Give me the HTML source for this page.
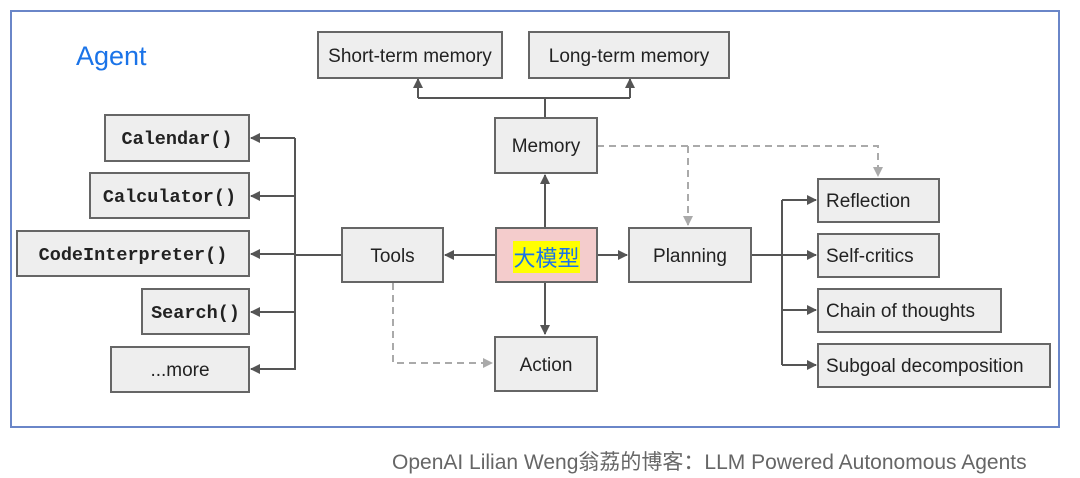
<!DOCTYPE html>
<html><head><meta charset="utf-8"><style>
body{margin:0;width:1080px;height:478px;background:#fff;position:relative;overflow:hidden;font-family:"Liberation Sans","Noto Sans CJK SC",sans-serif}
.f{position:absolute;border:2px solid #6a86c8;left:10px;top:10px;width:1046px;height:414px}
.b{position:absolute;box-sizing:border-box;background:#eeeeee;border:2px solid #666;display:flex;align-items:center;justify-content:center;font-size:19px;color:#222;white-space:nowrap;padding-top:3px}
.m{font-family:"Liberation Mono",monospace;font-weight:bold;font-size:18.5px}
.l{justify-content:flex-start;padding-left:7px}
svg{position:absolute;left:0;top:0}
</style></head><body>
<div class="f"></div>
<div style="position:absolute;left:76px;top:41px;font-size:27px;color:#1a73e8">Agent</div>
<svg width="1080" height="478">
<defs><marker id="a" markerWidth="10" markerHeight="10" refX="9" refY="5" orient="auto" markerUnits="userSpaceOnUse"><path d="M0,0L10,5L0,10z" fill="#555"/></marker>
<marker id="g" markerWidth="10" markerHeight="10" refX="9" refY="5" orient="auto" markerUnits="userSpaceOnUse"><path d="M0,0L10,5L0,10z" fill="#aaa"/></marker></defs>
<g stroke="#555" stroke-width="2" fill="none">
<path d="M545 117V98M418 98H630"/>
<path d="M418 98V79" marker-end="url(#a)"/><path d="M630 98V79" marker-end="url(#a)"/>
<path d="M341 255H295M295 138V370"/>
<path d="M295 138H251" marker-end="url(#a)"/><path d="M295 196H251" marker-end="url(#a)"/><path d="M295 254H251" marker-end="url(#a)"/><path d="M295 312H251" marker-end="url(#a)"/><path d="M295 369H251" marker-end="url(#a)"/>
<path d="M495 255H445" marker-end="url(#a)"/><path d="M597 255H627" marker-end="url(#a)"/>
<path d="M545 227V175" marker-end="url(#a)"/><path d="M545 282V334" marker-end="url(#a)"/>
<path d="M751 255H782M782 200V365"/>
<path d="M782 200H816" marker-end="url(#a)"/><path d="M782 255H816" marker-end="url(#a)"/><path d="M782 310H816" marker-end="url(#a)"/><path d="M782 365H816" marker-end="url(#a)"/>
</g>
<g stroke="#aaa" stroke-width="2" fill="none" stroke-dasharray="7,5">
<path d="M597 146H878V176" marker-end="url(#g)"/><path d="M688 146V225" marker-end="url(#g)"/>
<path d="M393 283V363H492" marker-end="url(#g)"/>
</g>
</svg>
<div class="b" style="left:317px;top:31px;width:186px;height:48px">Short-term memory</div>
<div class="b" style="left:528px;top:31px;width:202px;height:48px">Long-term memory</div>
<div class="b" style="left:494px;top:117px;width:104px;height:57px">Memory</div>
<div class="b m" style="left:104px;top:114px;width:146px;height:48px">Calendar()</div>
<div class="b m" style="left:89px;top:172px;width:161px;height:47px">Calculator()</div>
<div class="b m" style="left:16px;top:230px;width:234px;height:47px">CodeInterpreter()</div>
<div class="b m" style="left:141px;top:288px;width:109px;height:47px">Search()</div>
<div class="b" style="left:110px;top:346px;width:140px;height:47px">...more</div>
<div class="b" style="left:341px;top:227px;width:103px;height:56px">Tools</div>
<div class="b" style="left:495px;top:227px;width:103px;height:56px;background:#f4cccc"><span style="background:#ffff00;color:#1a73e8;font-size:22px">大模型</span></div>
<div class="b" style="left:628px;top:227px;width:124px;height:56px">Planning</div>
<div class="b" style="left:494px;top:336px;width:104px;height:56px">Action</div>
<div class="b l" style="left:817px;top:178px;width:123px;height:45px">Reflection</div>
<div class="b l" style="left:817px;top:233px;width:123px;height:45px">Self-critics</div>
<div class="b l" style="left:817px;top:288px;width:185px;height:45px">Chain of thoughts</div>
<div class="b l" style="left:817px;top:343px;width:234px;height:45px">Subgoal decomposition</div>
<div style="position:absolute;left:392px;top:446px;font-size:21px;color:#666;white-space:nowrap">OpenAI Lilian Weng翁荔的博客：LLM Powered Autonomous Agents</div>
</body></html>
